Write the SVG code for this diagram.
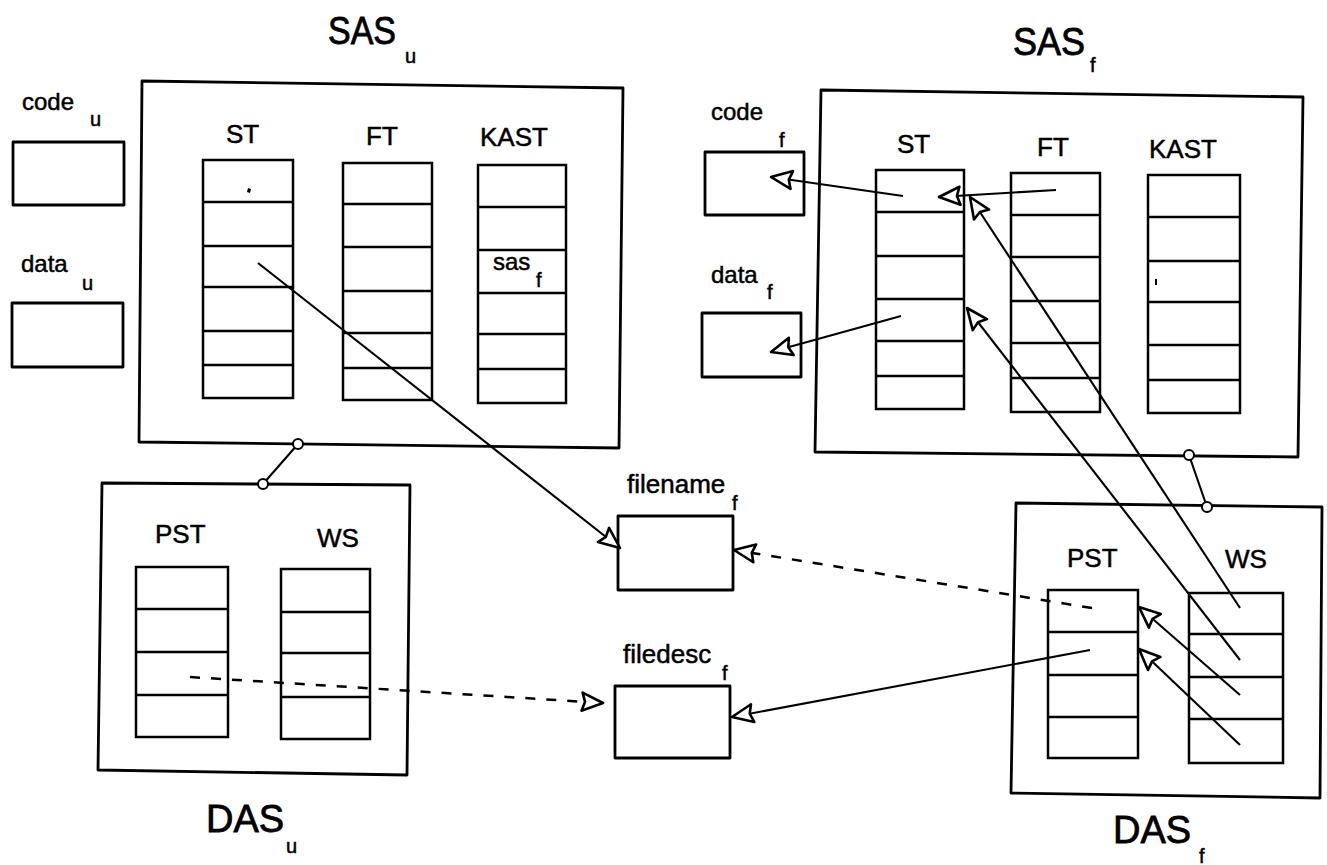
<svg xmlns="http://www.w3.org/2000/svg" width="1327" height="865" viewBox="0 0 1327 865">
  <style>
    .box { fill: none; stroke: #000; stroke-width: 2.8; stroke-linejoin: round; }
    .col { fill: none; stroke: #000; stroke-width: 2.5; }
    .row { stroke: #000; stroke-width: 2.5; }
    .link { fill: none; stroke: #000; stroke-width: 2.1; }
    .dash { fill: none; stroke: #000; stroke-width: 2.5; stroke-dasharray: 10 11; }
    .ring { fill: #fff; stroke: #000; stroke-width: 2; }
    text { font-family: "Liberation Sans", Arial, sans-serif; fill: #000; stroke: #000; stroke-width: 0.5; }
    .title { font-size: 38px; stroke-width: 0.8; }
    .lbl { font-size: 26px; }
    .small { font-size: 24px; }
    .sub { font-size: 20px; }
  </style>
  <defs>
    <!-- hollow triangular arrowhead -->
    <marker id="open" markerUnits="userSpaceOnUse" markerWidth="28" markerHeight="24" refX="22" refY="11" orient="auto" overflow="visible">
      <path d="M22,11 L1,2 L4,11 L1,20 Z" fill="#fff" stroke="#000" stroke-width="2.6" stroke-linejoin="round"/>
    </marker>
  </defs>

  <rect width="1327" height="865" fill="#fff"/>

  <!-- static address space of the user -->
  <g id="sas-u">
    <text class="title" x="328" y="44" textLength="68" lengthAdjust="spacingAndGlyphs">SAS</text>
    <text class="sub" x="405" y="63">u</text>
    <polygon class="box" points="142,81 623,88 619,448 139,442"/>
    <text class="lbl" x="226" y="143">ST</text>
    <text class="lbl" x="366" y="145">FT</text>
    <text class="lbl" x="480" y="146">KAST</text>
    <g id="sas-u-st">
      <rect class="col" x="203" y="160" width="90" height="238"/>
      <path class="row" d="M203,202H293 M203,246H293 M203,287H293 M203,331H293 M203,365H293"/>
      <path d="M248,188 l3,1 l-1,4 l-3,-1 z" fill="#000"/>
    </g>
    <g id="sas-u-ft">
      <rect class="col" x="343" y="163" width="89" height="237"/>
      <path class="row" d="M343,204H432 M343,247H432 M343,291H432 M343,333H432 M343,368H432"/>
    </g>
    <g id="sas-u-kast">
      <rect class="col" x="478" y="165" width="88" height="238"/>
      <path class="row" d="M478,207H566 M478,250H566 M478,293H566 M478,334H566 M478,369H566"/>
      <text class="small" x="493" y="270">sas</text>
      <text class="sub" x="536" y="287">f</text>
    </g>
  </g>

  <g id="code-u">
    <text class="small" x="22" y="110">code</text>
    <text class="sub" x="90" y="126">u</text>
    <rect class="box" x="13" y="142" width="111" height="63"/>
  </g>
  <g id="data-u">
    <text class="small" x="21" y="272">data</text>
    <text class="sub" x="82" y="290">u</text>
    <rect class="box" x="12" y="303" width="111" height="64"/>
  </g>

  <!-- static address space of the file server -->
  <g id="sas-f">
    <text class="title" x="1013" y="55" textLength="72" lengthAdjust="spacingAndGlyphs">SAS</text>
    <text class="sub" x="1090" y="72">f</text>
    <polygon class="box" points="821,90 1303,97 1298,457 815,452"/>
    <text class="lbl" x="897" y="153">ST</text>
    <text class="lbl" x="1037" y="156">FT</text>
    <text class="lbl" x="1149" y="158">KAST</text>
    <g id="sas-f-st">
      <rect class="col" x="876" y="170" width="88" height="239"/>
      <path class="row" d="M876,212H964 M876,256H964 M876,299H964 M876,341H964 M876,376H964"/>
    </g>
    <g id="sas-f-ft">
      <rect class="col" x="1011" y="173" width="89" height="239"/>
      <path class="row" d="M1011,215H1100 M1011,257H1100 M1011,301H1100 M1011,343H1100 M1011,378H1100"/>
    </g>
    <g id="sas-f-kast">
      <rect class="col" x="1148" y="175" width="92" height="238"/>
      <path class="row" d="M1148,217H1240 M1148,261H1240 M1148,302H1240 M1148,345H1240 M1148,380H1240"/>
      <path d="M1155,279 l2,0 l0,6 l-2,0 z" fill="#000"/>
    </g>
  </g>

  <g id="code-f">
    <text class="small" x="711" y="120">code</text>
    <text class="sub" x="779" y="147">f</text>
    <rect class="box" x="705" y="152" width="99" height="63"/>
  </g>
  <g id="data-f">
    <text class="small" x="711" y="283">data</text>
    <text class="sub" x="767" y="299">f</text>
    <rect class="box" x="702" y="313" width="99" height="64"/>
  </g>

  <!-- dynamic address space of the user -->
  <g id="das-u">
    <polygon class="box" points="102,483 410,485 407,775 98,770"/>
    <text class="lbl" x="155" y="543">PST</text>
    <text class="lbl" x="317" y="547">WS</text>
    <g id="das-u-pst">
      <rect class="col" x="136" y="567" width="92" height="170"/>
      <path class="row" d="M136,609H228 M136,652H228 M136,695H228"/>
    </g>
    <g id="das-u-ws">
      <rect class="col" x="281" y="569" width="89" height="170"/>
      <path class="row" d="M281,612H370 M281,653H370 M281,697H370"/>
    </g>
    <text class="title" x="206" y="832">DAS</text>
    <text class="sub" x="286" y="853">u</text>
  </g>

  <!-- dynamic address space of the file server -->
  <g id="das-f">
    <polygon class="box" points="1016,503 1322,507 1320,798 1011,793"/>
    <text class="lbl" x="1067" y="567">PST</text>
    <text class="lbl" x="1225" y="568">WS</text>
    <g id="das-f-pst">
      <rect class="col" x="1048" y="590" width="90" height="168"/>
      <path class="row" d="M1048,632H1138 M1048,675H1138 M1048,717H1138"/>
    </g>
    <g id="das-f-ws">
      <rect class="col" x="1189" y="593" width="94" height="170"/>
      <path class="row" d="M1189,634H1283 M1189,677H1283 M1189,719H1283"/>
    </g>
    <text class="title" x="1113" y="843">DAS</text>
    <text class="sub" x="1199" y="863">f</text>
  </g>

  <g id="filename-f">
    <text class="lbl" x="627" y="493">filename</text>
    <text class="sub" x="732" y="510">f</text>
    <rect class="box" x="618" y="516" width="115" height="74"/>
  </g>
  <g id="filedesc-f">
    <text class="lbl" x="623" y="663">filedesc</text>
    <text class="sub" x="722" y="680">f</text>
    <rect class="box" x="615" y="686" width="115" height="72"/>
  </g>

  <g id="connectors">
    <!-- static/dynamic pairings -->
    <line class="link" x1="298" y1="444" x2="263" y2="484"/>
    <circle class="ring" cx="298" cy="444" r="5"/>
    <circle class="ring" cx="263" cy="484" r="5"/>
    <line class="link" x1="1189" y1="455" x2="1207" y2="507"/>
    <circle class="ring" cx="1189" cy="455" r="5"/>
    <circle class="ring" cx="1207" cy="507" r="5"/>

    <!-- references -->
    <line class="link" x1="258" y1="263" x2="620" y2="548" marker-end="url(#open)"/>
    <line class="link" x1="903" y1="196" x2="771" y2="177" marker-end="url(#open)"/>
    <line class="link" x1="1056" y1="190" x2="939" y2="197" marker-end="url(#open)"/>
    <line class="link" x1="901" y1="316" x2="771" y2="352" marker-end="url(#open)"/>
    <line class="link" x1="1240" y1="608" x2="970" y2="197" marker-end="url(#open)"/>
    <line class="link" x1="1240" y1="660" x2="967" y2="308" marker-end="url(#open)"/>
    <line class="link" x1="1240" y1="695" x2="1139" y2="607" marker-end="url(#open)"/>
    <line class="link" x1="1240" y1="745" x2="1139" y2="649" marker-end="url(#open)"/>
    <line class="link" x1="1090" y1="650" x2="732" y2="717" marker-end="url(#open)"/>
    <line class="dash" x1="1092" y1="608" x2="734" y2="550" marker-end="url(#open)"/>
    <line class="dash" x1="190" y1="677" x2="603" y2="703" marker-end="url(#open)"/>
  </g>
</svg>
